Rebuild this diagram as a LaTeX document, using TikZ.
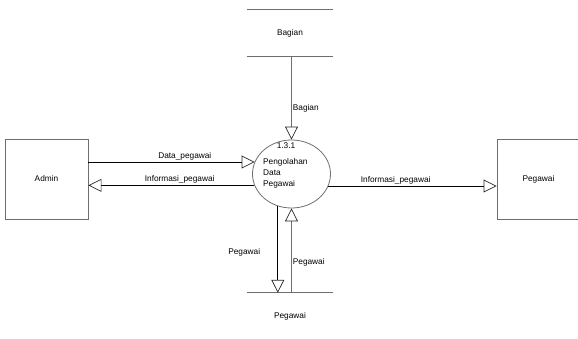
\documentclass[tikz,border=0pt]{standalone}
\usepackage{fontspec}
\setmainfont{Liberation Sans}
\usetikzlibrary{arrows.meta,shapes.geometric}
\definecolor{linegray}{HTML}{6E6E6E}
\begin{document}
\begin{tikzpicture}[x=1pt,y=-1pt,
	every node/.style={font=\fontsize{8.3}{11}\selectfont,text=black},
	entity/.style={draw=linegray,minimum width=83pt,minimum height=80pt,line width=0.9pt},
	store/.style={minimum width=83pt,minimum height=46pt},
	proc/.style={ellipse,draw=linegray,minimum width=78pt,minimum height=68pt,line width=0.8pt},
	flow/.style={-{Triangle[open,length=13pt,width=13pt,color=black!85]},line width=0.7pt}]
\useasboundingbox (0,0) rectangle (578,339);
% external entities
\node[entity] (admin) at (46.5,179) {Admin};
\node[entity] (pegawai) at (538.5,179) {Pegawai};
% data stores
\node[store] (bagian) at (290,33) {Bagian};
\draw[linegray,line width=0.9pt] ([xshift=-1.5pt]bagian.north west) -- ([xshift=1.5pt]bagian.north east)
	([xshift=-1.5pt]bagian.south west) -- ([xshift=1.5pt]bagian.south east);
\node[store] (pstore) at (290,316) {Pegawai};
\draw[linegray,line width=0.9pt] ([xshift=-1.5pt]pstore.north west) -- ([xshift=1.5pt]pstore.north east);
% process
\node[proc] (olah) at (291.5,174) {};
\node (olahid) at (286,146) {1.3.1};
\node[align=left,anchor=north west,inner sep=0pt] (olahnama) at (263,158) {Pengolahan\\Data\\Pegawai};
% flows
\draw[flow] (admin.east |- olah.162) -- node[above,pos=0.58,inner sep=1.5pt] {Data\_pegawai} (olah.162);
\draw[flow] (olah.197) -- node[above,pos=0.45,inner sep=1.5pt] {Informasi\_pegawai} (admin.east |- olah.197);
\draw[flow] (olah.-18) -- node[above,pos=0.4,inner sep=1.5pt] {Informasi\_pegawai} (pegawai.west |- olah.-18);
\draw[flow,linegray] (olah.north |- bagian.south) -- node[right,pos=0.62,inner sep=1pt] {Bagian} (olah.north);
\draw[flow] (olah.247) -- node[left,pos=0.53,xshift=-14pt] {Pegawai} (olah.247 |- pstore.north);
\draw[flow,linegray] (olah.south |- pstore.north) -- node[right,pos=0.36,inner sep=1pt] {Pegawai} (olah.south);
\end{tikzpicture}
\end{document}
